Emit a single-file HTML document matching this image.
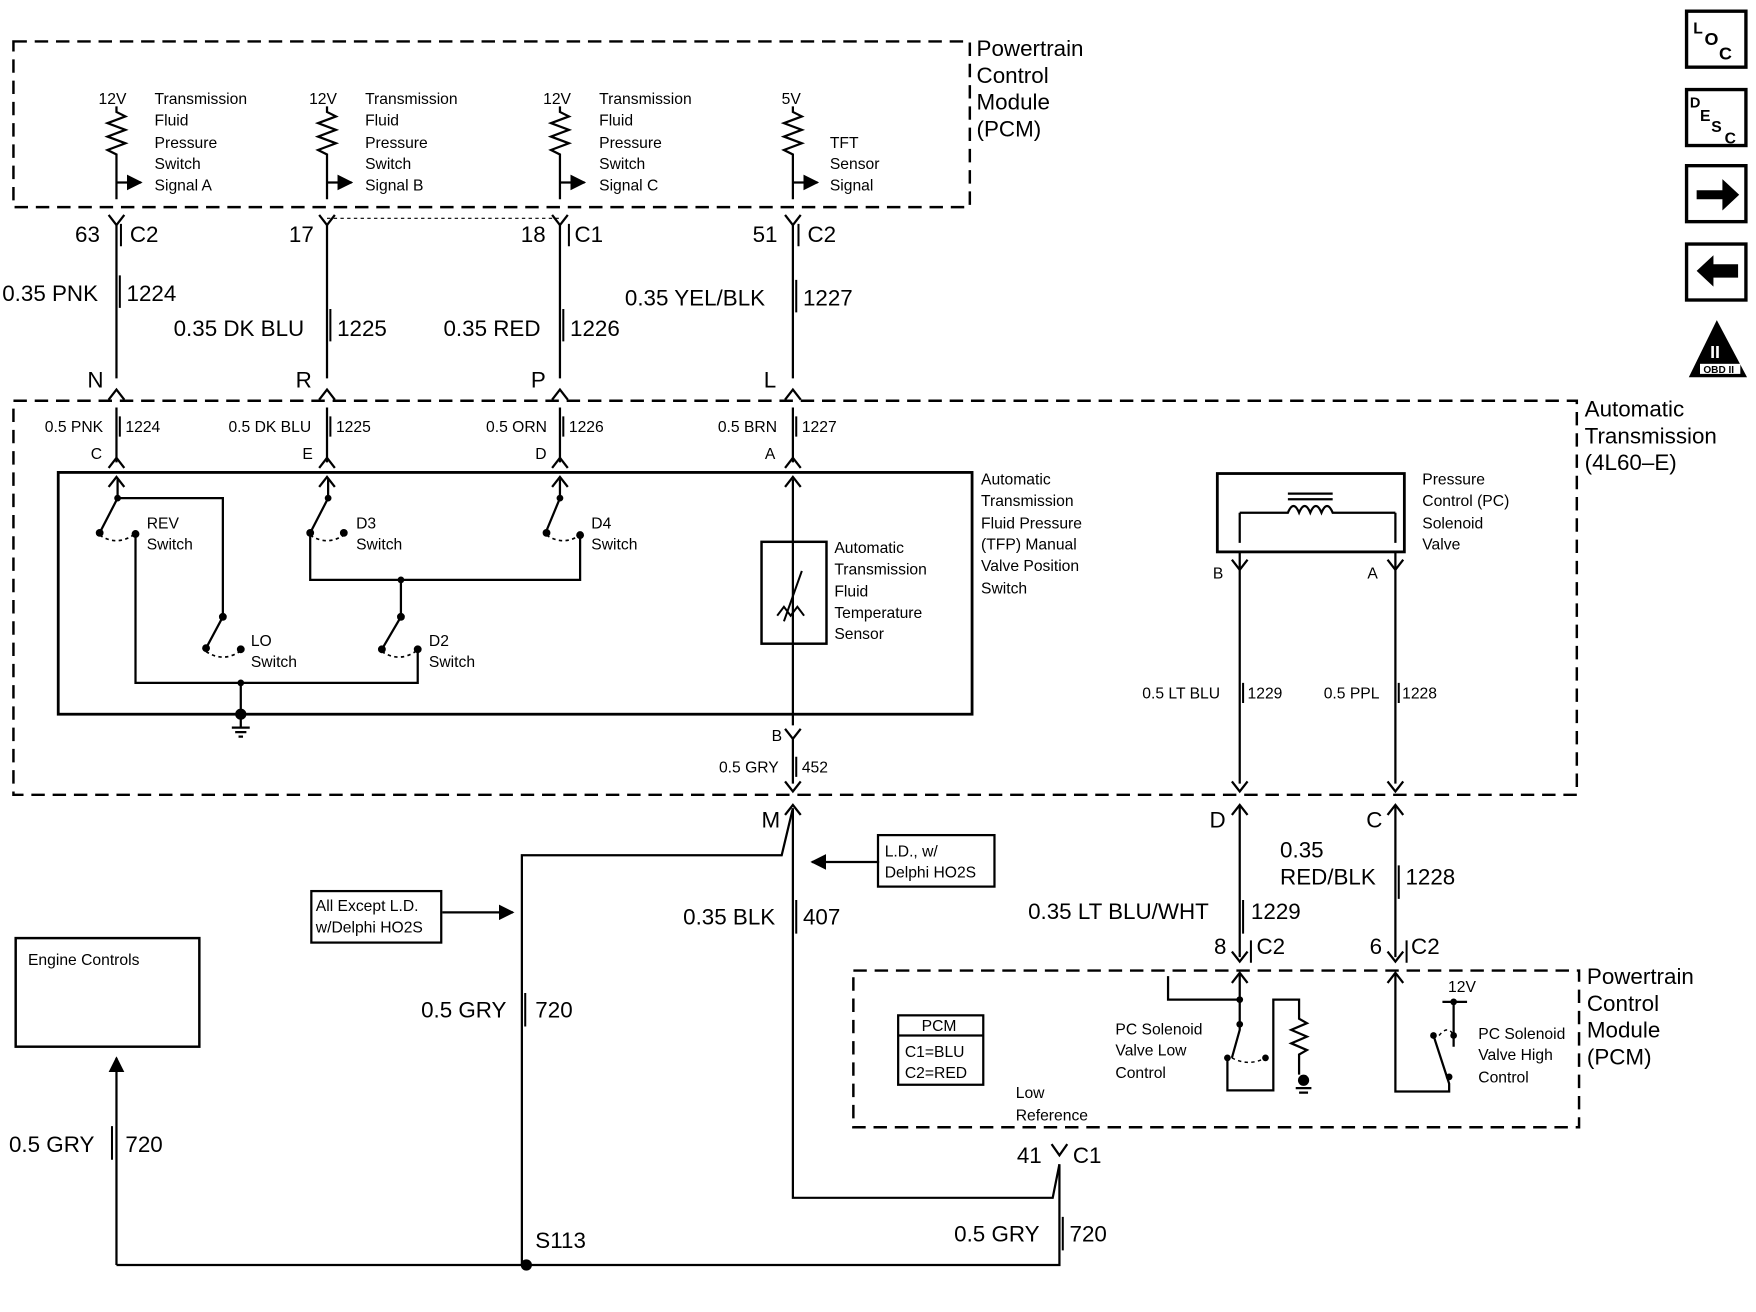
<!DOCTYPE html>
<html><head><meta charset="utf-8"><style>
html,body{margin:0;padding:0;background:#fff}
svg{display:block}
text{font-family:"Liberation Sans",sans-serif;fill:#000}
.s{font-size:14px}.m{font-size:20px}
</style></head><body>
<svg width="1756" height="1312" viewBox="0 0 1568 1172" preserveAspectRatio="none" xmlns="http://www.w3.org/2000/svg">
<defs>
<marker id="a" viewBox="0 0 10 10" refX="9" refY="5" markerWidth="7" markerHeight="7" orient="auto"><path d="M0,0L10,5L0,10z"/></marker>
</defs>
<g fill="none" stroke="#000" stroke-width="2.2">
<path d="M12,37H866V185H12Z" stroke-dasharray="12,7"/>
<path d="M12,358H1408V710H12Z" stroke-dasharray="12,7"/>
<path d="M762,867H1410V1007H762Z" stroke-dasharray="12,7"/>
<rect x="52" y="422" width="816" height="216" stroke-width="2.5"/>
<rect x="14" y="838" width="164" height="97"/>
<rect x="1087" y="423" width="167" height="70" stroke-width="2.5"/>
<rect x="680" y="484" width="58" height="91"/>
<rect x="1506" y="10" width="53" height="50" stroke-width="3"/>
<rect x="1506" y="80" width="53" height="50" stroke-width="3"/>
<rect x="1506" y="148" width="53" height="50" stroke-width="3"/>
<rect x="1506" y="218" width="53" height="50" stroke-width="3"/>
</g>
<path d="M1515,170H1538V160L1553,174L1538,188V178H1515Z"/>
<path d="M1552,236H1530V228L1515,242L1530,256V248H1552Z"/>
<path d="M1533,286L1508,337H1560Z"/>
<rect x="1518" y="325" width="36" height="9" fill="#fff"/>
<text x="1521" y="333" style="font-size:9px;font-weight:bold">OBD II</text>
<text x="1527" y="320" style="font-size:16px;font-weight:bold;fill:#fff">II</text>
<text x="1512" y="30" style="font-size:14px;font-weight:bold">L</text><text x="1522" y="40" style="font-size:16px;font-weight:bold">O</text><text x="1535" y="53" style="font-size:16px;font-weight:bold">C</text>
<text x="1509" y="96" style="font-size:13px;font-weight:bold">D</text><text x="1518" y="108" style="font-size:14px;font-weight:bold">E</text><text x="1528" y="118" style="font-size:14px;font-weight:bold">S</text><text x="1540" y="128" style="font-size:14px;font-weight:bold">C</text>

<g fill="none" stroke="#000" stroke-width="2">
<path d="M104,95l0,5l8,4l-16,6l16,6l-16,6l16,6l-16,6l8,4v40"/>
<path d="M292,95l0,5l8,4l-16,6l16,6l-16,6l16,6l-16,6l8,4v40"/>
<path d="M500,95l0,5l8,4l-16,6l16,6l-16,6l16,6l-16,6l8,4v40"/>
<path d="M708,95l0,5l8,4l-16,6l16,6l-16,6l16,6l-16,6l8,4v40"/>
<path d="M104,163H126" marker-end="url(#a)"/><path d="M292,163H314" marker-end="url(#a)"/><path d="M500,163H522" marker-end="url(#a)"/><path d="M708,163H730" marker-end="url(#a)"/>
<path d="M104,200V338M292,200V338M500,200V338M708,200V338"/>
<path d="M97,192l7,9l7,-9M285,192l7,9l7,-9M493,192l7,9l7,-9M701,192l7,9l7,-9"/>
<path d="M97,357l7,-9l7,9M285,357l7,-9l7,9M493,357l7,-9l7,9M701,357l7,-9l7,9"/>
<path d="M104,364V413M292,364V413M500,364V413M708,364V413"/>
<path d="M97,418l7,-9l7,9M285,418l7,-9l7,9M493,418l7,-9l7,9M701,418l7,-9l7,9"/>
<path d="M97,435l7,-9l7,9M285,435l7,-9l7,9M493,435l7,-9l7,9M701,435l7,-9l7,9"/>
<path d="M292,195H500" stroke-dasharray="3,3" stroke-width="1"/>
<path d="M105,428V445L89,476M105,445H199V551L184,579M121,477V610H373V580"/>
<path d="M293,428V445L277,476V518H518V478M500,428V445L488,474M358,518V551L341,580"/>
<path d="M89,478q15,10 30,0M277,478q15,10 30,0M488,478q15,10 30,0M184,582q15,10 30,0M341,582q15,10 30,0" stroke-dasharray="3,3" stroke-width="1.5"/>
<path d="M215,610V638"/>
<path d="M708,428V648"/>
<path d="M700,555L716,510M694,550l6,-8l6,8l6,-8l6,8" stroke-width="1.8"/>
<path d="M215,638V650M207,650h16M210,654h10M213,658h4"/>
<path d="M708,660V700M701,651l7,9l7,-9M701,698l7,9l7,-9M701,728l7,-9l7,9"/>
<path d="M708,722V1070H940L946,1040M939,1022l7,10l7,-10"/>
<path d="M708,722L698,764H466V1130"/>
<path d="M104,1130H946V1040"/><path d="M104,1130V945" marker-end="url(#a)"/>
<path d="M785,770H725" marker-end="url(#a)"/><path d="M395,815H458" marker-end="url(#a)"/>
<path d="M1107,493V700M1246,493V700M1107,458H1150q5,-12 10,0q5,-12 10,0q5,-12 10,0q5,-12 10,0H1246M1107,458V485M1246,458V485"/>
<path d="M1150,446H1190M1150,441H1190"/>
<path d="M1100,500l7,9l7,-9M1239,500l7,9l7,-9M1100,698l7,9l7,-9M1239,698l7,9l7,-9"/>
<path d="M1100,728l7,-9l7,9M1239,728l7,-9l7,9"/>
<path d="M1107,720V855M1246,720V855M1100,850l7,9l7,-9M1239,850l7,9l7,-9"/>
<path d="M1100,878l7,-9l7,9M1239,878l7,-9l7,9"/>
<path d="M1107,870V920L1100,945M1107,893H1043V872M1096,945V974H1137V893H1160V910l7,4l-14,6l14,6l-14,6l14,6l-7,4V960"/>
<path d="M1246,870V975H1294V968L1280,925M1298,895V935M1288,895H1310"/>
<path d="M1100,945q15,8 30,0M1285,925q8,-10 13,0" stroke-dasharray="3,3" stroke-width="1.3"/>
<rect x="802" y="907" width="76" height="62" stroke-width="2"/><path d="M802,925H878"/>
<rect x="784" y="746" width="104" height="46" stroke-width="2"/>
<rect x="278" y="796" width="116" height="46" stroke-width="2"/>
</g>
<g>
<circle cx="215" cy="638" r="5"/><circle cx="470" cy="1130" r="5"/><circle cx="1164" cy="965" r="5"/>
<circle cx="105" cy="445" r="3"/><circle cx="89" cy="476" r="3.5"/><circle cx="121" cy="477" r="3.5"/>
<circle cx="199" cy="551" r="3.5"/><circle cx="184" cy="579" r="3.5"/><circle cx="215" cy="580" r="3.5"/>
<circle cx="293" cy="445" r="3"/><circle cx="277" cy="476" r="3.5"/><circle cx="307" cy="476" r="3.5"/>
<circle cx="500" cy="445" r="3"/><circle cx="488" cy="476" r="3.5"/><circle cx="518" cy="478" r="3.5"/>
<circle cx="358" cy="518" r="3"/><circle cx="358" cy="551" r="3.5"/><circle cx="341" cy="580" r="3.5"/><circle cx="373" cy="580" r="3.5"/>
<circle cx="215" cy="610" r="3"/>
<circle cx="1107" cy="893" r="3"/><circle cx="1298" cy="895" r="3"/>
<circle cx="1107" cy="915" r="3"/><circle cx="1096" cy="945" r="3"/><circle cx="1130" cy="945" r="3"/>
<circle cx="1280" cy="925" r="3"/><circle cx="1298" cy="925" r="3"/><circle cx="1294" cy="962" r="3"/>
</g>
<path d="M1157,972h14M1160,976h8" stroke="#000" stroke-width="2"/>
<g class="m">
<text x="872" y="50">Powertrain</text><text x="872" y="74">Control</text><text x="872" y="98">Module</text><text x="872" y="122">(PCM)</text>
<text x="1415" y="372">Automatic</text><text x="1415" y="396">Transmission</text><text x="1415" y="420">(4L60–E)</text>
<text x="1417" y="879">Powertrain</text><text x="1417" y="903">Control</text><text x="1417" y="927">Module</text><text x="1417" y="951">(PCM)</text>
<text x="67" y="216">63</text><text x="116" y="216">C2</text>
<text x="258" y="216">17</text>
<text x="465" y="216">18</text><text x="513" y="216">C1</text>
<text x="672" y="216">51</text><text x="721" y="216">C2</text>
<text x="2" y="269">0.35 PNK</text><text x="113" y="269">1224</text>
<text x="155" y="300">0.35 DK BLU</text><text x="301" y="300">1225</text>
<text x="396" y="300">0.35 RED</text><text x="509" y="300">1226</text>
<text x="558" y="273">0.35 YEL/BLK</text><text x="717" y="273">1227</text>
<text x="78" y="346">N</text><text x="264" y="346">R</text><text x="474" y="346">P</text><text x="682" y="346">L</text>
<text x="680" y="739">M</text><text x="1080" y="739">D</text><text x="1220" y="739">C</text>
<text x="610" y="826">0.35 BLK</text><text x="717" y="826">407</text>
<text x="1143" y="766">0.35</text><text x="1143" y="790">RED/BLK</text><text x="1255" y="790">1228</text>
<text x="918" y="821">0.35 LT BLU/WHT</text><text x="1117" y="821">1229</text>
<text x="1084" y="852">8</text><text x="1122" y="852">C2</text><text x="1223" y="852">6</text><text x="1260" y="852">C2</text>
<text x="376" y="909">0.5 GRY</text><text x="478" y="909">720</text>
<text x="8" y="1029">0.5 GRY</text><text x="112" y="1029">720</text>
<text x="908" y="1039">41</text><text x="958" y="1039">C1</text>
<text x="478" y="1115">S113</text>
<text x="852" y="1109">0.5 GRY</text><text x="955" y="1109">720</text>
</g>
<g fill="none" stroke="#000" stroke-width="1.8"><path d="M107,246V275M295,276V305M503,276V305M711,250V279M711,804V834M1110,804V834M1249,773V803M469,887V917M100,1006V1036M949,1087V1117M1117,840V860M1256,840V860M108,200V220M713,200V220M508,200V220"/>
<path d="M107,372V390M295,372V390M503,372V390M711,372V390M711,676V694M1110,610V628M1249,610V628"/></g>
<g class="s">
<text x="88" y="93">12V</text><text x="138" y="93">Transmission</text><text x="138" y="112">Fluid</text><text x="138" y="132">Pressure</text><text x="138" y="151">Switch</text><text x="138" y="170">Signal A</text>
<text x="276" y="93">12V</text><text x="326" y="93">Transmission</text><text x="326" y="112">Fluid</text><text x="326" y="132">Pressure</text><text x="326" y="151">Switch</text><text x="326" y="170">Signal B</text>
<text x="485" y="93">12V</text><text x="535" y="93">Transmission</text><text x="535" y="112">Fluid</text><text x="535" y="132">Pressure</text><text x="535" y="151">Switch</text><text x="535" y="170">Signal C</text>
<text x="698" y="93">5V</text><text x="741" y="132">TFT</text><text x="741" y="151">Sensor</text><text x="741" y="170">Signal</text>
<text x="40" y="386">0.5 PNK</text><text x="112" y="386">1224</text>
<text x="204" y="386">0.5 DK BLU</text><text x="300" y="386">1225</text>
<text x="434" y="386">0.5 ORN</text><text x="508" y="386">1226</text>
<text x="641" y="386">0.5 BRN</text><text x="716" y="386">1227</text>
<text x="81" y="410">C</text><text x="270" y="410">E</text><text x="478" y="410">D</text><text x="683" y="410">A</text>
<text x="131" y="472">REV</text><text x="131" y="491">Switch</text>
<text x="318" y="472">D3</text><text x="318" y="491">Switch</text>
<text x="528" y="472">D4</text><text x="528" y="491">Switch</text>
<text x="224" y="577">LO</text><text x="224" y="596">Switch</text>
<text x="383" y="577">D2</text><text x="383" y="596">Switch</text>
<text x="745" y="494">Automatic</text><text x="745" y="513">Transmission</text><text x="745" y="533">Fluid</text><text x="745" y="552">Temperature</text><text x="745" y="571">Sensor</text>
<text x="876" y="433">Automatic</text><text x="876" y="452">Transmission</text><text x="876" y="472">Fluid Pressure</text><text x="876" y="491">(TFP) Manual</text><text x="876" y="510">Valve Position</text><text x="876" y="530">Switch</text>
<text x="1270" y="433">Pressure</text><text x="1270" y="452">Control (PC)</text><text x="1270" y="472">Solenoid</text><text x="1270" y="491">Valve</text>
<text x="1083" y="517">B</text><text x="1221" y="517">A</text>
<text x="1020" y="624">0.5 LT BLU</text><text x="1114" y="624">1229</text>
<text x="1182" y="624">0.5 PPL</text><text x="1252" y="624">1228</text>
<text x="689" y="662">B</text>
<text x="642" y="690">0.5 GRY</text><text x="716" y="690">452</text>
<text x="790" y="765">L.D., w/</text><text x="790" y="784">Delphi HO2S</text>
<text x="282" y="814">All Except L.D.</text><text x="282" y="833">w/Delphi HO2S</text>
<text x="25" y="862">Engine Controls</text>
<text x="823" y="921">PCM</text><text x="808" y="944">C1=BLU</text><text x="808" y="963">C2=RED</text>
<text x="996" y="924">PC Solenoid</text><text x="996" y="943">Valve Low</text><text x="996" y="963">Control</text>
<text x="1293" y="886">12V</text>
<text x="1320" y="928">PC Solenoid</text><text x="1320" y="947">Valve High</text><text x="1320" y="967">Control</text>
<text x="907" y="981">Low</text><text x="907" y="1001">Reference</text>
</g>
</svg>
</body></html>
